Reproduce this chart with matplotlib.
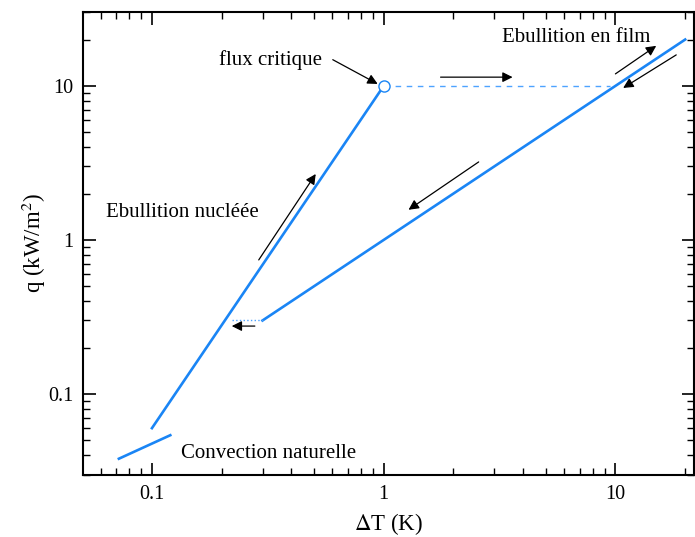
import matplotlib
matplotlib.use('Agg')
import matplotlib.pyplot as plt
import numpy as np

plt.rcParams['font.family'] = ['Liberation Serif', 'DejaVu Serif']
plt.rcParams['mathtext.fontset'] = 'stix'

# courbes (ΔT en K, q en kW/m2)
nucl_x = [0.1, 1.0]
nucl_y = [0.06, 10.0]
conv_x = [0.072, 0.12]
conv_y = [0.038, 0.054]
film_x = [0.3, 20.0]
film_y = [0.3, 20.0]
crit_x = [1.0, 9.5]
crit_y = [10.0, 10.0]
retour_x = [0.222, 0.3]
retour_y = [0.3, 0.3]

# fleches : (depart, arrivee)
fleches = [
    ((0.603, 14.8), (0.942, 10.3)),
    ((1.76, 11.4), (3.6, 11.4)),
    ((10.0, 11.97), (15.0, 18.2)),
    ((18.3, 15.9), (10.8, 9.7)),
    ((2.57, 3.21), (1.28, 1.57)),
    ((0.289, 0.742), (0.509, 2.68)),
    ((0.278, 0.276), (0.221, 0.276)),
]

textes = [
    ('flux critique', 0.326, 14.8),
    ('Ebullition en film', 6.79, 20.5),
    ('Ebullition nucléée', 0.135, 1.50),
    ('Convection naturelle', 0.319, 0.0408),
]

bleu = '#1a85f5'

fig = plt.figure(figsize=(6.95, 5.37), dpi=100)
ax = fig.add_axes([0.1194, 0.1155, 0.8796, 0.8622])
ax.set_xscale('log')
ax.set_yscale('log')
ax.set_xlim(0.0504, 21.9)
ax.set_ylim(0.0298, 30.2)

ax.plot(nucl_x, nucl_y, color=bleu, lw=1.9)
ax.plot(conv_x, conv_y, color=bleu, lw=1.9)
ax.plot(film_x, film_y, color=bleu, lw=1.9)
ax.plot(crit_x, crit_y, color='#4da3ff', lw=1.0, dashes=(4, 4))
ax.plot(retour_x, retour_y, color='#4da3ff', lw=1.0, ls=':')
ax.plot([nucl_x[1]], [nucl_y[1]], 'o', mfc='white', mec=bleu, ms=8, mew=1.0)

for (x0, y0), (x1, y1) in fleches:
    ax.annotate('', xy=(x1, y1), xytext=(x0, y0),
                arrowprops=dict(arrowstyle='-|>', color='black', lw=0.9,
                                mutation_scale=15, shrinkA=0, shrinkB=0))

for t, x, y in textes:
    ax.text(x, y, t, ha='center', va='center', fontsize=15)

ax.set_xticks([0.1, 1, 10])
ax.set_xticklabels(['0.1', '1', '10'])
ax.set_yticks([0.1, 1, 10])
ax.set_yticklabels(['0.1', '1', '10'])
ax.tick_params(which='both', direction='in', top=True, right=True, labelsize=14.5)
ax.tick_params(which='major', length=9, width=1.2, pad=7)
ax.tick_params(which='minor', length=5, width=1.0)
for s in ax.spines.values():
    s.set_linewidth(1.5)

ax.set_xlabel(r'$\Delta$T (K)', fontsize=16.5, labelpad=5)
ax.set_ylabel(r'q (kW/m$^2$)', fontsize=16.5, labelpad=0)

fig.savefig('out.png', dpi=100)
